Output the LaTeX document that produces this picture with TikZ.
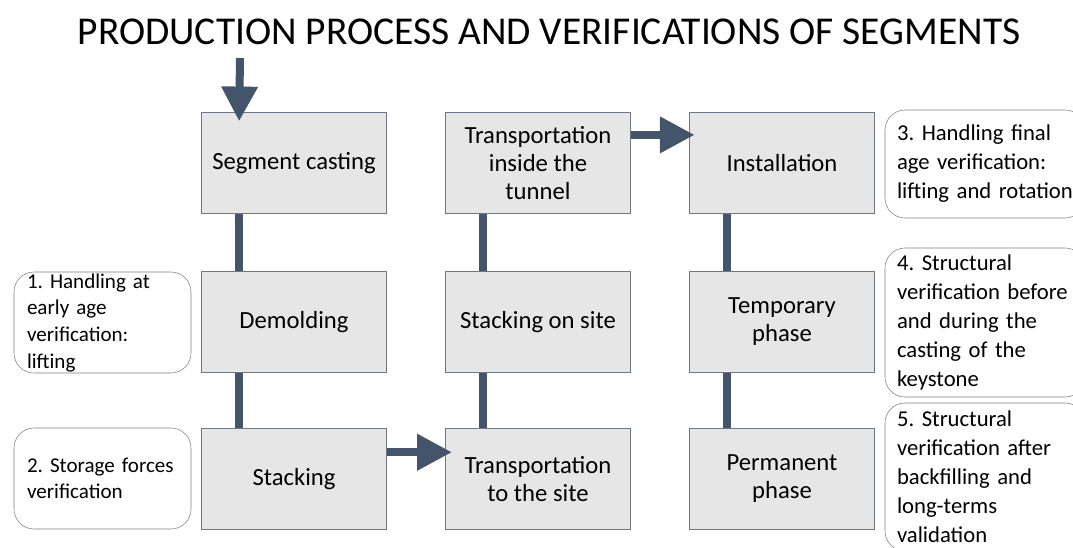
\documentclass[tikz,border=0pt]{standalone}
\usepackage{fontspec}
\setmainfont{Carlito}
\usetikzlibrary{arrows.meta}
\definecolor{linkcol}{HTML}{44546A}
\definecolor{boxfill}{HTML}{E6E6E6}
\definecolor{boxline}{HTML}{6F7784}
\definecolor{noteline}{HTML}{7F7F7F}
\frenchspacing
\begin{document}
\begin{tikzpicture}[x=0.75pt,y=-0.75pt,
		stage/.style={draw=boxline,fill=boxfill,minimum width=138.75pt,minimum height=75.75pt,inner sep=0pt,align=center,font=\fontsize{18.5}{21}\selectfont},
		note/.style={draw=noteline,fill=white,rounded corners=15pt,inner ysep=0pt,align=left},
		lnote/.style={note,minimum width=132.75pt,minimum height=75.75pt,inner xsep=9.75pt,text width=113.25pt,font=\fontsize{15.8}{20}\selectfont},
		rnote/.style={note,minimum width=150pt,inner xsep=9pt,text width=132pt,font=\fontsize{17}{21.75}\selectfont},
		link/.style={draw=linkcol,line width=6pt},
		bigarrow/.style={link,-{Triangle[length=26pt,width=26pt]}}]
	\useasboundingbox (0,0) rectangle (1073,547);
	\clip (0,0) rectangle (1073,547);
	\node (title) at (549,32) {\fontsize{29.6}{34}\selectfont PRODUCTION PROCESS AND VERIFICATIONS OF SEGMENTS};
	% production stages
	\node[stage] (cast) at (294,163) {Segment casting};
	\node[stage] (demold) at (294,322) {Demolding};
	\node[stage] (stack) at (294,479) {Stacking};
	\node[stage] (tosite) at (538,479) {Transportation\\to the site};
	\node[stage] (onsite) at (538,322) {Stacking on site};
	\node[stage] (intun) at (538,163) {Transportation\\inside the\\tunnel};
	\node[stage] (install) at (782,163) {Installation};
	\node[stage] (temp) at (782,322) {Temporary\\phase};
	\node[stage] (perm) at (782,479) {Permanent\\phase};
	% verifications
	\node[lnote] (v1) at (102.5,322.5) {1. Handling at\\early age\\verification:\\lifting};
	\node[lnote] (v2) at (102.5,478.5) {2. Storage forces\\verification};
	\node[rnote,minimum height=81pt] (v3) at (985,164) {3. Handling final\\age verification:\\lifting and rotation};
	\node[rnote,minimum height=111.75pt] (v4) at (985,322.5) {4. Structural\\verification before\\and during the\\casting of the\\keystone};
	\node[rnote,minimum height=111pt] (v5) at (985,477) {5. Structural\\verification after\\backfilling and\\long-terms\\validation};
	% connectors
	\foreach \a/\b in {cast/demold,demold/stack,intun/onsite,onsite/tosite,install/temp,temp/perm}{
		\draw[link] ([xshift=28.5pt]\a.south west)--([xshift=28.5pt]\b.north west);
	}
	\coordinate (in) at (240,58);
	\draw[bigarrow,shorten >=-6.75pt] (in)--([xshift=28.5pt]cast.north west);
	\draw[bigarrow,shorten >=-5pt] ([yshift=-18pt]stack.north east)--([yshift=-18pt]tosite.north west);
	\draw[bigarrow,shorten >=-4pt] ([yshift=-17pt]intun.north east)--([yshift=-17pt]install.north west);
\end{tikzpicture}
\end{document}
